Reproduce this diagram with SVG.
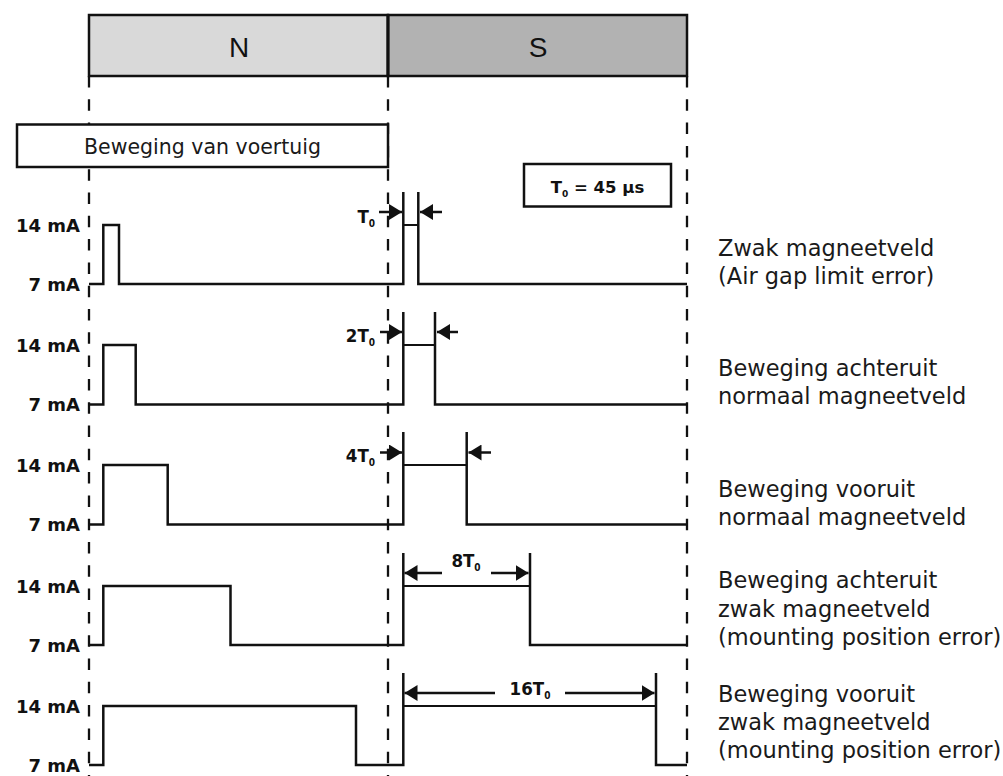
<svg xmlns="http://www.w3.org/2000/svg" width="1003" height="776" viewBox="0 0 1003 776">
<defs>
<style>
.bg{fill:#ffffff}
.dash{stroke:#111;stroke-width:2.3;stroke-dasharray:11.5 11.8;fill:none}
.wave{stroke:#111;stroke-width:2.5;fill:none;stroke-linejoin:miter;stroke-linecap:butt}
.hi{stroke:#111;stroke-width:2;fill:none}
.arr{stroke:#111;stroke-width:2.5;fill:none;marker-end:url(#ah)}
.box{stroke:#111;stroke-width:2.5}
.lbl{font-family:"DejaVu Sans",sans-serif;font-size:22.5px;fill:#1a1a1a}
.ma{font-family:"DejaVu Sans",sans-serif;font-weight:bold;font-size:18px;fill:#111;text-anchor:end}
.t0{font-family:"DejaVu Sans Condensed","DejaVu Sans",sans-serif;font-stretch:condensed;font-weight:bold;font-size:18.5px;fill:#111}
.sub{font-size:10px}
.pole{font-family:"Liberation Sans",Arial,sans-serif;font-size:28px;fill:#111;text-anchor:middle}
</style>
<marker id="ah" markerUnits="userSpaceOnUse" markerWidth="14" markerHeight="16" refX="13" refY="8" orient="auto">
<path d="M0,0 L13,8 L0,16 z" fill="#111"/>
</marker>
</defs>
<rect class="bg" x="0" y="0" width="1003" height="776"/>

<g id="guides">
<line class="dash" x1="89" y1="76" x2="89" y2="776"/>
<line class="dash" x1="388" y1="76" x2="388" y2="776"/>
<line class="dash" x1="687" y1="76" x2="687" y2="776"/>
</g>

<g id="magnet">
<rect x="89" y="15" width="299" height="61" fill="#d9d9d9" class="box"/>
<rect x="388" y="15" width="299" height="61" fill="#b2b2b2" class="box"/>
<line x1="388" y1="15" x2="388" y2="76" stroke="#111" stroke-width="3"/>
<text class="pole" x="239" y="57">N</text>
<text class="pole" x="538" y="57">S</text>
</g>

<g id="movement">
<rect x="17" y="124.5" width="371" height="42.5" fill="#fff" class="box"/>
<text class="lbl" x="202.5" y="154" text-anchor="middle" style="font-size:20.5px">Beweging van voertuig</text>
</g>

<g id="t0box">
<rect x="524" y="164" width="147" height="42.5" fill="#fff" class="box"/>
<text class="ma" x="597.5" y="192.5" style="font-size:16.5px;text-anchor:middle">T<tspan class="sub" dy="4" style="font-size:9px">0</tspan><tspan dy="-4"> = 45 µs</tspan></text>
</g>

<g id="row1">
<text class="ma" x="80" y="231.5">14 mA</text>
<text class="ma" x="80" y="290.5">7 mA</text>
<path class="wave" d="M89,284 H103.3 V225 H119 V284 H403.3 V192 M418.3,192 V284 H687"/>
<path class="hi" d="M403.3,225 H418.3"/>
<text class="t0" x="375" y="223" text-anchor="end">T<tspan class="sub" dy="4">0</tspan></text>
<text class="lbl" x="718" y="256">Zwak magneetveld</text>
<text class="lbl" x="718" y="284">(Air gap limit error)</text>
</g>

<g id="row2">
<text class="ma" x="80" y="351.5">14 mA</text>
<text class="ma" x="80" y="411">7 mA</text>
<path class="wave" d="M89,404.5 H103.3 V345 H135.7 V404.5 H403.3 V312 M435,312 V404.5 H687"/>
<path class="hi" d="M403.3,345 H435"/>
<text class="t0" x="375" y="342" text-anchor="end">2T<tspan class="sub" dy="4">0</tspan></text>
<text class="lbl" x="718" y="376">Beweging achteruit</text>
<text class="lbl" x="718" y="404">normaal magneetveld</text>
</g>

<g id="row3">
<text class="ma" x="80" y="471.5">14 mA</text>
<text class="ma" x="80" y="531">7 mA</text>
<path class="wave" d="M89,524.5 H103.3 V465 H167.7 V524.5 H403.3 V432 M466.7,432 V524.5 H687"/>
<path class="hi" d="M403.3,465 H466.7"/>
<text class="t0" x="375" y="462" text-anchor="end">4T<tspan class="sub" dy="4">0</tspan></text>
<text class="lbl" x="718" y="497">Beweging vooruit</text>
<text class="lbl" x="718" y="525">normaal magneetveld</text>
</g>

<g id="row4">
<text class="ma" x="80" y="592.5">14 mA</text>
<text class="ma" x="80" y="651.5">7 mA</text>
<path class="wave" d="M89,645 H103.3 V586 H230.5 V645 H403.3 V553 M530,553 V645 H687"/>
<path class="hi" d="M403.3,586 H530"/>
<text class="t0" x="466" y="567" text-anchor="middle">8T<tspan class="sub" dy="4">0</tspan></text>
<text class="lbl" x="718" y="588">Beweging achteruit</text>
<text class="lbl" x="718" y="617">zwak magneetveld</text>
<text class="lbl" x="718" y="645">(mounting position error)</text>
</g>

<g id="row5">
<text class="ma" x="80" y="712.5">14 mA</text>
<text class="ma" x="80" y="771.5">7 mA</text>
<path class="wave" d="M89,765 H103.3 V706 H356 V765 H403.3 V673 M656,673 V765 H687"/>
<path class="hi" d="M403.3,706 H656"/>
<text class="t0" x="530" y="695" text-anchor="middle">16T<tspan class="sub" dy="4">0</tspan></text>
<text class="lbl" x="718" y="702">Beweging vooruit</text>
<text class="lbl" x="718" y="730">zwak magneetveld</text>
<text class="lbl" x="718" y="758">(mounting position error)</text>
</g>

<g id="connectors">
<line class="arr" x1="379" y1="212" x2="402" y2="212"/>
<line class="arr" x1="442" y1="212" x2="420" y2="212"/>
<line class="arr" x1="380" y1="332" x2="402" y2="332"/>
<line class="arr" x1="458" y1="332" x2="437" y2="332"/>
<line class="arr" x1="380" y1="452.5" x2="402" y2="452.5"/>
<line class="arr" x1="491" y1="452.5" x2="468.5" y2="452.5"/>
<line class="arr" x1="442" y1="573" x2="404.5" y2="573"/>
<line class="arr" x1="491" y1="573" x2="528.5" y2="573"/>
<line class="arr" x1="495" y1="693" x2="404.5" y2="693"/>
<line class="arr" x1="565" y1="693" x2="654.5" y2="693"/>
</g>
</svg>
